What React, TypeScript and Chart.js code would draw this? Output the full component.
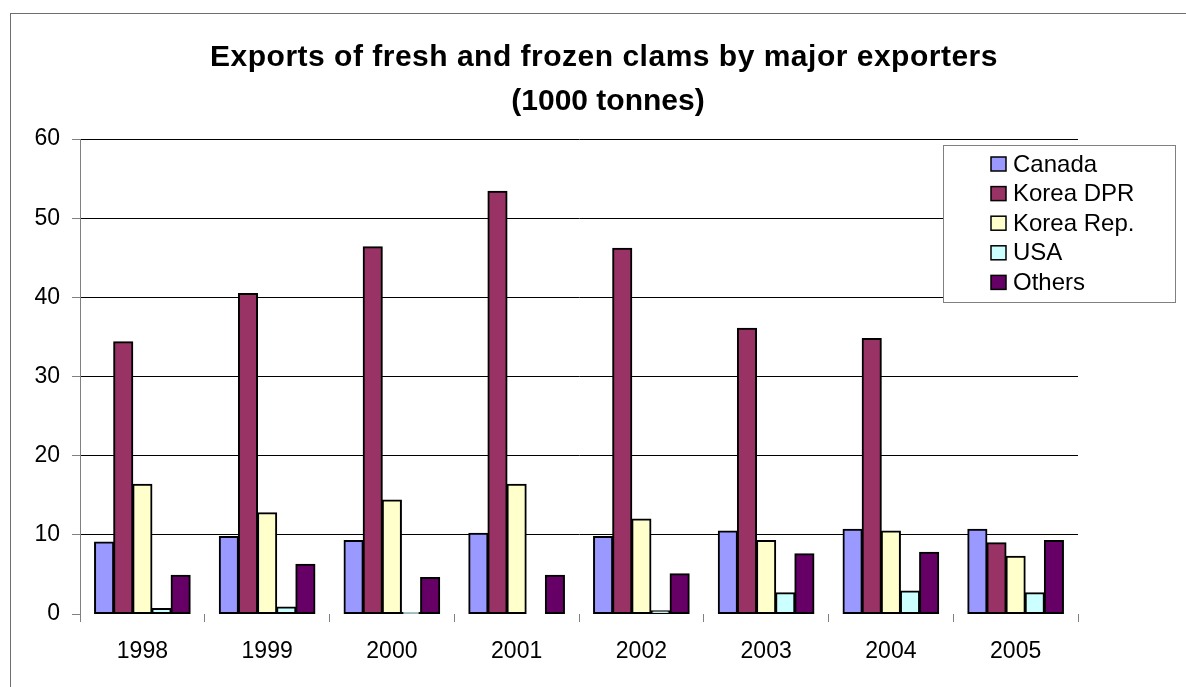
import React, { useEffect, useRef } from "react";
import { Chart, registerables } from "chart.js";
Chart.register(...registerables);

const years = ["1998", "1999", "2000", "2001", "2002", "2003", "2004", "2005"];
const canada = [9.1, 9.8, 9.3, 10.2, 9.8, 10.5, 10.7, 10.7];
const koreaDPR = [34.4, 40.5, 46.4, 53.4, 46.2, 36.1, 34.8, 9.0];
const koreaRep = [16.4, 12.8, 14.4, 16.4, 12.0, 9.3, 10.5, 7.3];
const usa = [0.7, 0.9, 0.2, 0, 0.4, 2.7, 2.9, 2.7];
const others = [4.9, 6.3, 4.6, 4.9, 5.1, 7.6, 7.8, 9.3];
const seriesNames = ["Canada", "Korea DPR", "Korea Rep.", "USA", "Others"];
const seriesColors = ["#9999FF", "#993366", "#FFFFCC", "#CCFFFF", "#660066"];
const yMin = 0;
const yMax = 60;
const yStep = 10;
const titleLines = ["Exports of fresh and frozen clams by major exporters", "(1000 tonnes)"];

const FONT = "'Liberation Sans', Arial, sans-serif";

export default function App() {
  const ref = useRef<HTMLCanvasElement | null>(null);

  useEffect(() => {
    const canvas = ref.current;
    if (!canvas) return;
    const values = [canada, koreaDPR, koreaRep, usa, others];

    const framePlugin = {
      id: "frame",
      beforeDraw(chart: any) {
        const ctx = chart.ctx;
        ctx.save();
        ctx.fillStyle = "#ffffff";
        ctx.fillRect(0, 0, chart.width, chart.height);
        ctx.strokeStyle = "#6e6e6e";
        ctx.lineWidth = 1;
        ctx.strokeRect(10.5, 13.5, 1400, 1000);
        ctx.restore();
      },
    };

    const titlePlugin = {
      id: "customTitle",
      afterDraw(chart: any) {
        const ctx = chart.ctx;
        ctx.save();
        ctx.fillStyle = "#000";
        ctx.textAlign = "center";
        ctx.textBaseline = "alphabetic";
        ctx.font = `bold 30px ${FONT}`;
        try { (ctx as any).letterSpacing = "0.5px"; } catch (e) {}
        ctx.fillText(titleLines[0], 604, 66);
        try { (ctx as any).letterSpacing = "0px"; } catch (e) {}
        ctx.fillText(titleLines[1], 608, 110);
        ctx.restore();
      },
    };

    const legendPlugin = {
      id: "customLegend",
      afterDraw(chart: any) {
        const ctx = chart.ctx;
        ctx.save();
        const bx = 943.5, by = 145.5, bw = 232, bh = 157;
        ctx.fillStyle = "#fff";
        ctx.fillRect(bx, by, bw, bh);
        ctx.strokeStyle = "#808080";
        ctx.lineWidth = 1;
        ctx.strokeRect(bx, by, bw, bh);
        ctx.font = `24px ${FONT}`;
        ctx.textAlign = "left";
        ctx.textBaseline = "middle";
        chart.data.datasets.forEach((ds: any, i: number) => {
          const cy = 164 + i * 29.6;
          ctx.fillStyle = ds.backgroundColor;
          ctx.fillRect(991, cy - 7, 15, 14);
          ctx.strokeStyle = "#000";
          ctx.lineWidth = 1.5;
          ctx.strokeRect(991, cy - 7, 15, 14);
          ctx.fillStyle = "#000";
          ctx.fillText(ds.label, 1013, cy + 1);
        });
        ctx.restore();
      },
    };

    const chart = new Chart(canvas, {
      type: "bar",
      data: {
        labels: years,
        datasets: seriesNames.map((name, i) => ({
          label: name,
          data: values[i],
          backgroundColor: seriesColors[i],
          borderColor: "#000",
          borderWidth: 2,
          borderSkipped: false,
          inflateAmount: 0.5,
          categoryPercentage: 0.767,
          barPercentage: 1.0,
        })),
      },
      options: {
        responsive: false,
        animation: false,
        devicePixelRatio: 1,
        layout: { padding: { left: 0, top: 139, right: 108, bottom: 0 } },
        plugins: {
          legend: { display: false },
          title: { display: false },
          tooltip: { enabled: false },
        },
        scales: {
          x: {
            grid: {
              offset: true,
              drawOnChartArea: false,
              drawTicks: true,
              tickLength: 8,
              tickColor: "#808080",
            },
            border: { display: false },
            ticks: {
              color: "#000",
              font: { family: FONT, size: 23 },
              padding: 16,
              maxRotation: 0,
              autoSkip: false,
            },
            afterFit(scale: any) {
              scale.height = 73;
            },
          },
          y: {
            min: yMin,
            max: yMax,
            ticks: {
              stepSize: yStep,
              color: "#000",
              font: { family: FONT, size: 23 },
              padding: 12,
            },
            grid: {
              color: (c: any) => (c.tick && c.tick.value === 0 ? "rgba(0,0,0,0)" : "#000"),
              tickColor: "#808080",
              tickLength: 8,
              lineWidth: 1,
            },
            border: { display: true, color: "#808080", width: 1 },
            afterFit(scale: any) {
              scale.width = 80;
            },
          },
        },
      },
      plugins: [framePlugin, titlePlugin, legendPlugin],
    });

    return () => chart.destroy();
  }, []);

  return (
    <div style={{ position: "fixed", left: 0, top: 0, width: 1186, height: 687, background: "#fff" }}>
      <canvas ref={ref} width={1186} height={687} style={{ display: "block" }} />
    </div>
  );
}
